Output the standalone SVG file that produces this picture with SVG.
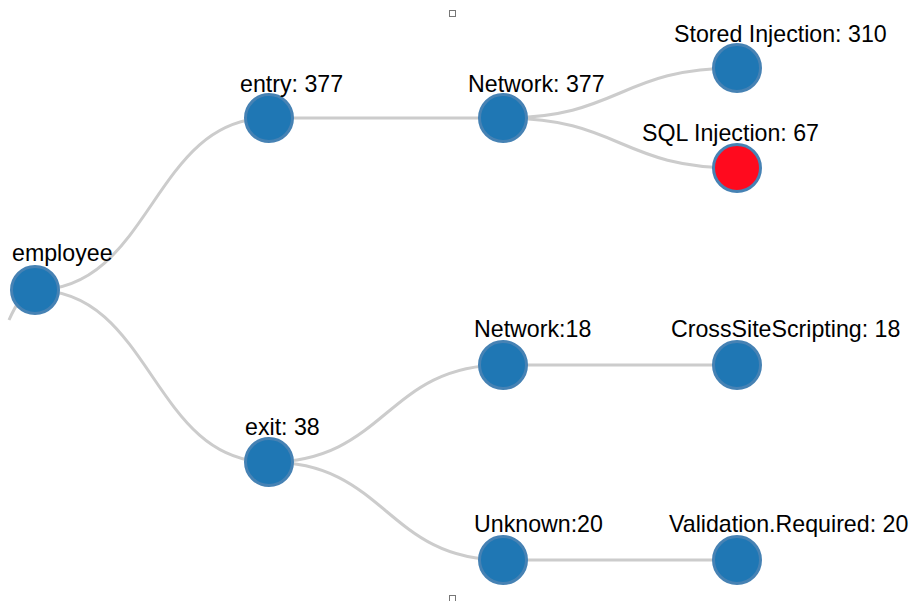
<svg xmlns="http://www.w3.org/2000/svg" width="913" height="601" viewBox="0 0 913 601">
  <style>
    .link { fill: none; stroke: #cccccc; stroke-width: 3; }
    .node circle { fill: #1f77b4; stroke: #4682b4; stroke-width: 3; }
    .node.alert circle { fill: #ff0a1e; }
    .node text { font-family: "Liberation Sans", Arial, sans-serif; font-size: 23.2px; fill: #000; }
    .handle { fill: #fff; stroke: #777; stroke-width: 1; }
  </style>
  <rect width="913" height="601" fill="#ffffff"/>

  <!-- connectors: horizontal cubic diagonals -->
  <g id="links">
    <path class="link" d="M35,290 C24,292 17,302 9,320"/>
    <path class="link" d="M35,290 C152,290 152,118 269,118"/>
    <path class="link" d="M35,290 C152,290 152,462 269,462"/>
    <path class="link" d="M269,118 C386,118 386,118 503,118"/>
    <path class="link" d="M503,118 C620,118 620,68 737,68"/>
    <path class="link" d="M503,118 C620,118 620,168 737,168"/>
    <path class="link" d="M269,462 C386,462 386,365 503,365"/>
    <path class="link" d="M269,462 C386,462 386,560 503,560"/>
    <path class="link" d="M503,365 C620,365 620,365 737,365"/>
    <path class="link" d="M503,560 C620,560 620,560 737,560"/>
  </g>

  <g id="node-employee" class="node">
    <circle cx="35" cy="290" r="23.5"/>
    <text x="12" y="261">employee</text>
  </g>
  <g id="node-entry" class="node">
    <circle cx="269" cy="118" r="23.5"/>
    <text x="240" y="92">entry: 377</text>
  </g>
  <g id="node-exit" class="node">
    <circle cx="269" cy="462" r="23.5"/>
    <text x="245" y="435">exit: 38</text>
  </g>
  <g id="node-entry-network" class="node">
    <circle cx="503" cy="118" r="23.5"/>
    <text x="468" y="92">Network: 377</text>
  </g>
  <g id="node-stored-injection" class="node">
    <circle cx="737" cy="68" r="23.5"/>
    <text x="674" y="42">Stored Injection: 310</text>
  </g>
  <g id="node-sql-injection" class="node alert">
    <circle cx="737" cy="168" r="23.5"/>
    <text x="642" y="141">SQL Injection: 67</text>
  </g>
  <g id="node-exit-network" class="node">
    <circle cx="503" cy="365" r="23.5"/>
    <text x="474" y="337">Network:18</text>
  </g>
  <g id="node-cross-site-scripting" class="node">
    <circle cx="737" cy="365" r="23.5"/>
    <text x="671" y="337">CrossSiteScripting: 18</text>
  </g>
  <g id="node-unknown" class="node">
    <circle cx="503" cy="560" r="23.5"/>
    <text x="474" y="532">Unknown:20</text>
  </g>
  <g id="node-validation-required" class="node">
    <circle cx="737" cy="560" r="23.5"/>
    <text x="669" y="532">Validation.Required: 20</text>
  </g>

  <!-- resize handles -->
  <rect class="handle" x="449.5" y="10.5" width="6" height="6"/>
  <rect class="handle" x="449.5" y="595.5" width="6" height="6"/>
</svg>
